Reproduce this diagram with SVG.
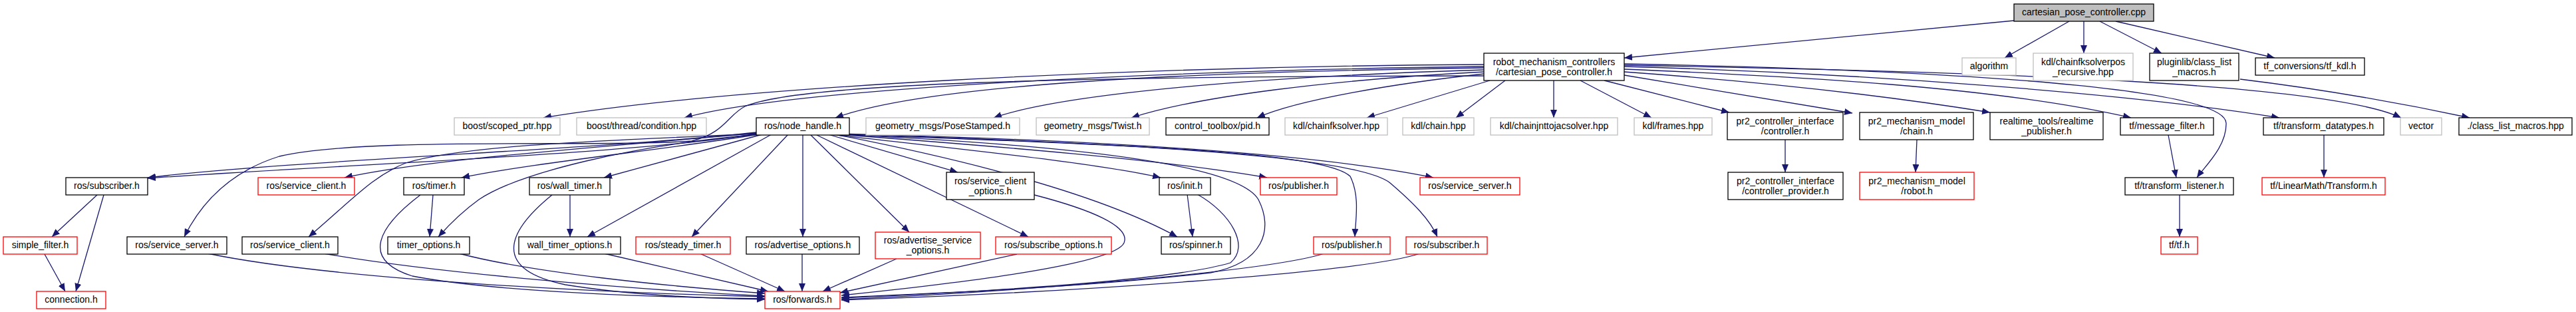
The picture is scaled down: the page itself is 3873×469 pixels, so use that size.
<svg xmlns="http://www.w3.org/2000/svg" width="3873" height="469" viewBox="0 0 3873 469">
<style>
rect{fill:#fff;stroke:#000;stroke-width:1.3}
.g rect{stroke:#bfbfbf}
.r rect{stroke:#ff0000}
.root rect{fill:#bfbfbf}
text{font-family:"Liberation Sans",Arial,sans-serif;font-size:14px;text-anchor:middle;fill:#000}
#edges path{fill:none;stroke:#191970;stroke-width:1.3;marker-end:url(#a)}
</style>
<defs>
<marker id="a" markerWidth="12" markerHeight="10" refX="12" refY="5" orient="auto" markerUnits="userSpaceOnUse"><path d="M0,0 L12,5 L0,10 z" fill="#191970"/></marker>
</defs>
<rect x="0" y="0" width="3873" height="469" style="fill:#fff;stroke:none"/>
<g id="edges">
<path d="M3028,31 L2442,87"/>
<path d="M3111,32 L3014,87"/>
<path d="M3133,32 L3133,80"/>
<path d="M3157,32 L3250,80"/>
<path d="M3181,32 L3420,87"/>
<path d="M3368,119 Q3540,140 3713,177"/>
<path d="M2231,97 C1700,100 1100,130 817,177"/>
<path d="M2231,100 C1800,105 1200,130 1029,177"/>
<path d="M2231,102 C1800,108 1400,125 1256,177"/>
<path d="M2231,105 C1900,115 1600,140 1494,177"/>
<path d="M2231,108 C2000,120 1800,145 1701,177"/>
<path d="M2231,111 C2100,125 1950,150 1890,177"/>
<path d="M2240,121 L2055,177"/>
<path d="M2263,121 L2189,177"/>
<path d="M2336,121 L2336,177"/>
<path d="M2376,121 L2483,177"/>
<path d="M2412,121 L2600,169"/>
<path d="M2442,113 L2785,170"/>
<path d="M2442,108 Q2750,130 2992,169"/>
<path d="M2442,104 C2700,115 3000,130 3204,177"/>
<path d="M2442,100 C2800,110 3200,140 3427,177"/>
<path d="M2442,98 C3000,108 3500,125 3610,177"/>
<path d="M2442,96 C3050,108 3345,140 3347,185 C3348,220 3315,250 3303,267"/>
<path d="M2231,114 C1600,115 1200,125 1120,160 C1095,172 1090,200 1040,212 C900,222 550,205 420,235 C340,260 300,310 277,356"/>
<path d="M1137,199 C900,225 450,240 222,267"/>
<path d="M1137,201 C950,232 500,248 222,268"/>
<path d="M1137,200 C900,222 650,238 518,267"/>
<path d="M1140,202 C1000,225 800,245 694,267"/>
<path d="M1146,202 L908,267"/>
<path d="M1138,201 C900,212 700,218 610,245 C560,265 530,300 464,356"/>
<path d="M1142,202 C950,218 780,260 720,300 C695,318 675,338 659,356"/>
<path d="M1160,202 L883,356"/>
<path d="M1185,202 L1040,356"/>
<path d="M1207,203 L1207,356"/>
<path d="M1219,203 L1367,349"/>
<path d="M1228,203 L1546,356"/>
<path d="M1245,202 L1440,259"/>
<path d="M1250,202 C1450,225 1650,245 1745,267"/>
<path d="M1255,202 C1450,240 1650,290 1770,356"/>
<path d="M1260,202 C1500,220 1750,240 1905,267"/>
<path d="M1268,201 C1700,212 2000,235 2155,267"/>
<path d="M1265,202 C1700,218 1990,228 2030,265 C2045,295 2038,330 2037,356"/>
<path d="M1270,202 C1700,215 2040,235 2090,275 C2125,305 2150,330 2161,356"/>
<path d="M1262,202 C1600,218 1860,245 1892,300 C1915,345 1900,395 1820,410 C1600,435 1350,443 1265,447"/>
<path d="M651,293 L646,356"/>
<path d="M857,293 L857,356"/>
<path d="M1785,292 L1793,356"/>
<path d="M1800,292 C1850,320 1880,370 1850,395 C1750,425 1400,442 1265,448"/>
<path d="M1555,293 C1640,315 1700,340 1690,365 C1675,400 1400,430 1265,444"/>
<path d="M1991,381 C1900,410 1500,440 1265,450"/>
<path d="M2135,381 C2050,410 1600,440 1265,451"/>
<path d="M312,381 C500,420 900,440 1150,446"/>
<path d="M487,381 C650,410 950,435 1150,445"/>
<path d="M632,293 C570,340 540,390 620,415 C750,440 1000,447 1150,449"/>
<path d="M690,381 C800,410 1000,430 1150,441"/>
<path d="M830,293 C760,350 740,405 850,428 C950,444 1050,448 1150,450"/>
<path d="M908,381 L1155,438"/>
<path d="M1052,381 L1180,438"/>
<path d="M1206,381 L1206,438"/>
<path d="M1348,389 L1237,438"/>
<path d="M1529,382 L1263,440"/>
<path d="M146,293 L78,356"/>
<path d="M156,293 L114,438"/>
<path d="M67,382 L98,438"/>
<path d="M2684,210 L2684,259"/>
<path d="M2882,210 L2880,259"/>
<path d="M3260,203 L3272,267"/>
<path d="M3494,203 L3494,267"/>
<path d="M3277,293 L3277,356"/>
</g>
<g id="n_cpp" class="root"><rect x="3028" y="6" width="210" height="26"/><text x="3133" y="23">cartesian_pose_controller.cpp</text></g>
<g id="n_robot"><rect x="2231" y="80" width="211" height="41"/><text x="2336.5" y="98">robot_mechanism_controllers</text><text x="2336.5" y="113">/cartesian_pose_controller.h</text></g>
<g id="n_algorithm" class="g"><rect x="2950" y="87" width="81" height="26"/><text x="2990.5" y="104">algorithm</text></g>
<g id="n_chainfksolverpos" class="g"><rect x="3057" y="80" width="150" height="41"/><text x="3132" y="98">kdl/chainfksolverpos</text><text x="3132" y="113">_recursive.hpp</text></g>
<g id="n_pluginlib"><rect x="3232" y="80" width="134" height="41"/><text x="3299" y="98">pluginlib/class_list</text><text x="3299" y="113">_macros.h</text></g>
<g id="n_tf_kdl"><rect x="3391" y="87" width="164" height="26"/><text x="3473" y="104">tf_conversions/tf_kdl.h</text></g>
<g id="n_scoped_ptr" class="g"><rect x="683" y="177" width="159" height="26"/><text x="762.5" y="194">boost/scoped_ptr.hpp</text></g>
<g id="n_condition" class="g"><rect x="867" y="177" width="195" height="26"/><text x="964.5" y="194">boost/thread/condition.hpp</text></g>
<g id="n_node_handle"><rect x="1137" y="177" width="140" height="26"/><text x="1207" y="194">ros/node_handle.h</text></g>
<g id="n_posestamped" class="g"><rect x="1302" y="177" width="231" height="26"/><text x="1417.5" y="194">geometry_msgs/PoseStamped.h</text></g>
<g id="n_twist" class="g"><rect x="1558" y="177" width="170" height="26"/><text x="1643" y="194">geometry_msgs/Twist.h</text></g>
<g id="n_pid"><rect x="1753" y="177" width="155" height="26"/><text x="1830.5" y="194">control_toolbox/pid.h</text></g>
<g id="n_chainfksolver" class="g"><rect x="1932" y="177" width="154" height="26"/><text x="2009" y="194">kdl/chainfksolver.hpp</text></g>
<g id="n_chain" class="g"><rect x="2109" y="177" width="107" height="26"/><text x="2162.5" y="194">kdl/chain.hpp</text></g>
<g id="n_chainjnt" class="g"><rect x="2241" y="177" width="191" height="26"/><text x="2336.5" y="194">kdl/chainjnttojacsolver.hpp</text></g>
<g id="n_frames" class="g"><rect x="2457" y="177" width="117" height="26"/><text x="2515.5" y="194">kdl/frames.hpp</text></g>
<g id="n_controller"><rect x="2597" y="169" width="174" height="41"/><text x="2684" y="187">pr2_controller_interface</text><text x="2684" y="202">/controller.h</text></g>
<g id="n_mm_chain"><rect x="2796" y="169" width="171" height="41"/><text x="2881.5" y="187">pr2_mechanism_model</text><text x="2881.5" y="202">/chain.h</text></g>
<g id="n_realtime"><rect x="2992" y="169" width="170" height="41"/><text x="3077" y="187">realtime_tools/realtime</text><text x="3077" y="202">_publisher.h</text></g>
<g id="n_message_filter"><rect x="3188" y="177" width="140" height="26"/><text x="3258" y="194">tf/message_filter.h</text></g>
<g id="n_transform_datatypes"><rect x="3403" y="177" width="181" height="26"/><text x="3493.5" y="194">tf/transform_datatypes.h</text></g>
<g id="n_vector" class="g"><rect x="3609" y="177" width="62" height="26"/><text x="3640" y="194">vector</text></g>
<g id="n_class_list_macros_hpp"><rect x="3697" y="177" width="170" height="26"/><text x="3782" y="194">./class_list_macros.hpp</text></g>
<g id="n_subscriber_b"><rect x="99" y="267" width="123" height="26"/><text x="160.5" y="284">ros/subscriber.h</text></g>
<g id="n_service_client_r" class="r"><rect x="388" y="267" width="145" height="26"/><text x="460.5" y="284">ros/service_client.h</text></g>
<g id="n_timer"><rect x="607" y="267" width="91" height="26"/><text x="652.5" y="284">ros/timer.h</text></g>
<g id="n_wall_timer"><rect x="796" y="267" width="121" height="26"/><text x="856.5" y="284">ros/wall_timer.h</text></g>
<g id="n_service_client_options"><rect x="1423" y="259" width="132" height="41"/><text x="1489" y="277">ros/service_client</text><text x="1489" y="292">_options.h</text></g>
<g id="n_init"><rect x="1743" y="267" width="77" height="26"/><text x="1781.5" y="284">ros/init.h</text></g>
<g id="n_publisher_r4" class="r"><rect x="1895" y="267" width="115" height="26"/><text x="1952.5" y="284">ros/publisher.h</text></g>
<g id="n_service_server_r" class="r"><rect x="2135" y="267" width="150" height="26"/><text x="2210" y="284">ros/service_server.h</text></g>
<g id="n_controller_provider"><rect x="2598" y="259" width="173" height="41"/><text x="2684.5" y="277">pr2_controller_interface</text><text x="2684.5" y="292">/controller_provider.h</text></g>
<g id="n_mm_robot" class="r"><rect x="2796" y="259" width="172" height="41"/><text x="2882" y="277">pr2_mechanism_model</text><text x="2882" y="292">/robot.h</text></g>
<g id="n_transform_listener"><rect x="3195" y="267" width="163" height="26"/><text x="3276.5" y="284">tf/transform_listener.h</text></g>
<g id="n_transform" class="r"><rect x="3401" y="267" width="185" height="26"/><text x="3493.5" y="284">tf/LinearMath/Transform.h</text></g>
<g id="n_simple_filter" class="r"><rect x="5" y="356" width="111" height="26"/><text x="60.5" y="373">simple_filter.h</text></g>
<g id="n_service_server_b"><rect x="191" y="356" width="150" height="26"/><text x="266" y="373">ros/service_server.h</text></g>
<g id="n_service_client_b"><rect x="364" y="356" width="144" height="26"/><text x="436" y="373">ros/service_client.h</text></g>
<g id="n_timer_options"><rect x="583" y="356" width="123" height="26"/><text x="644.5" y="373">timer_options.h</text></g>
<g id="n_wall_timer_options"><rect x="780" y="356" width="153" height="26"/><text x="856.5" y="373">wall_timer_options.h</text></g>
<g id="n_steady_timer" class="r"><rect x="956" y="356" width="142" height="26"/><text x="1027" y="373">ros/steady_timer.h</text></g>
<g id="n_advertise_options"><rect x="1122" y="356" width="170" height="26"/><text x="1207" y="373">ros/advertise_options.h</text></g>
<g id="n_advertise_service_options" class="r"><rect x="1316" y="349" width="158" height="40"/><text x="1395" y="366">ros/advertise_service</text><text x="1395" y="381">_options.h</text></g>
<g id="n_subscribe_options" class="r"><rect x="1497" y="356" width="174" height="26"/><text x="1584" y="373">ros/subscribe_options.h</text></g>
<g id="n_spinner"><rect x="1746" y="356" width="104" height="26"/><text x="1798" y="373">ros/spinner.h</text></g>
<g id="n_publisher_r5" class="r"><rect x="1975" y="356" width="115" height="26"/><text x="2032.5" y="373">ros/publisher.h</text></g>
<g id="n_subscriber_r5" class="r"><rect x="2114" y="356" width="122" height="26"/><text x="2175" y="373">ros/subscriber.h</text></g>
<g id="n_tf" class="r"><rect x="3249" y="356" width="55" height="26"/><text x="3276.5" y="373">tf/tf.h</text></g>
<g id="n_connection" class="r"><rect x="55" y="438" width="104" height="26"/><text x="107" y="455">connection.h</text></g>
<g id="n_forwards" class="r"><rect x="1150" y="438" width="113" height="26"/><text x="1206.5" y="455">ros/forwards.h</text></g>
</svg>
